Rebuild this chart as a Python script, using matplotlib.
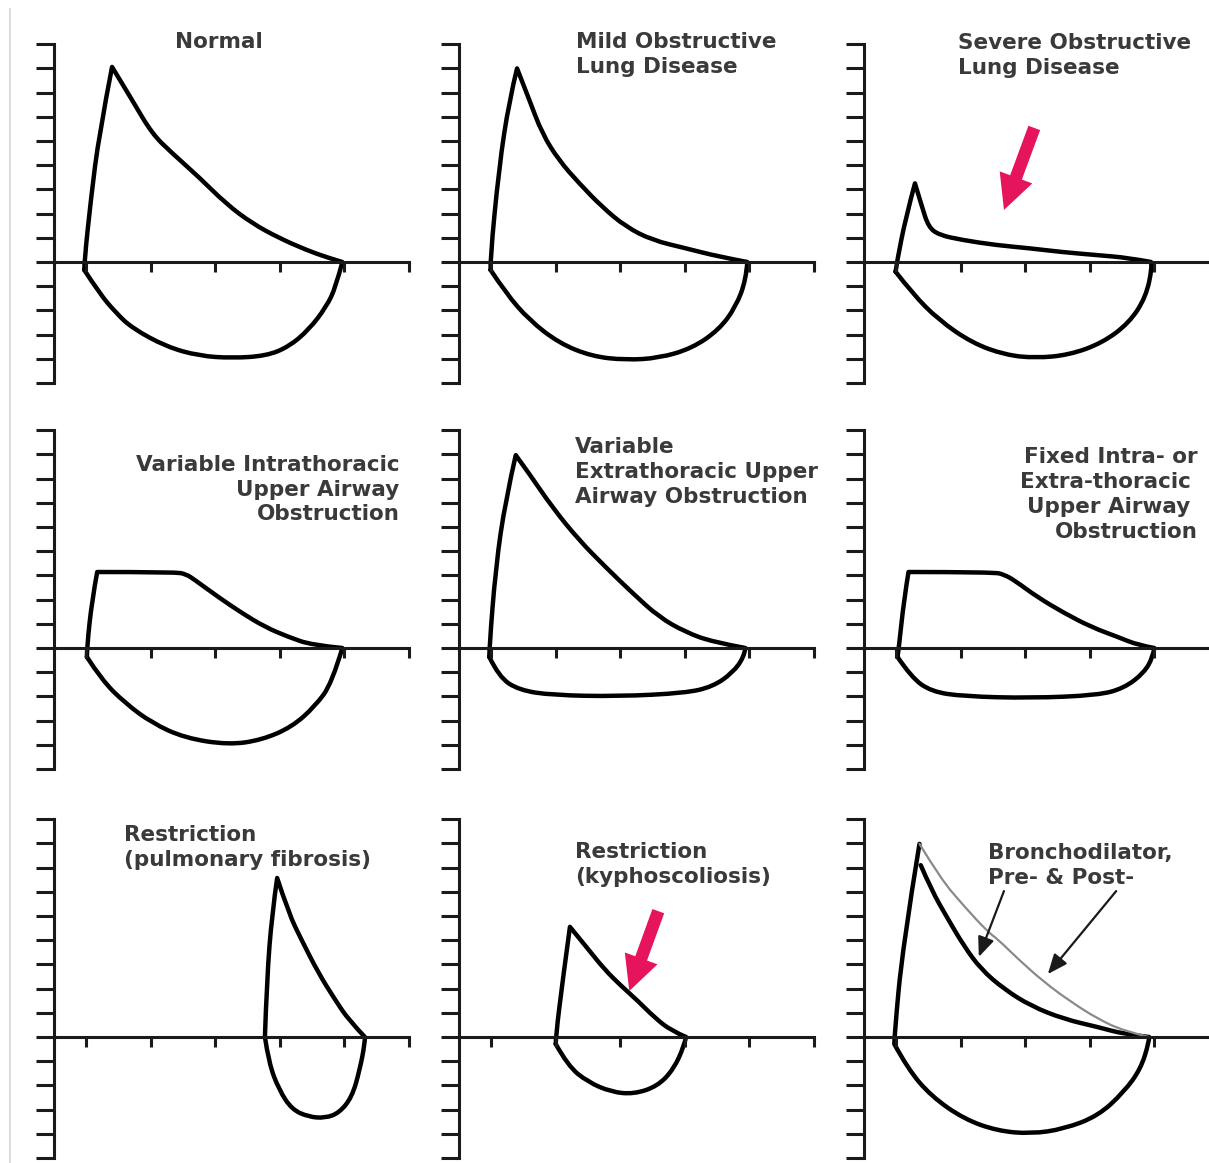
import matplotlib.pyplot as plt
from matplotlib.lines import Line2D
from matplotlib.path import Path
from matplotlib.patches import PathPatch

# Flow-volume loops: volume (x) against flow (y), one loop per panel
titles = [
    'Normal',
    'Mild Obstructive\nLung Disease',
    'Severe Obstructive\nLung Disease',
    'Variable Intrathoracic\nUpper Airway\nObstruction',
    'Variable\nExtrathoracic Upper\nAirway Obstruction',
    'Fixed Intra- or\nExtra-thoracic \nUpper Airway \nObstruction',
    'Restriction\n(pulmonary fibrosis)',
    'Restriction\n(kyphoscoliosis)',
    'Bronchodilator,\nPre- & Post-',
]

flow_ticks = list(range(-5, 10))
volume_ticks = [0.5, 1.5, 2.5, 3.5, 4.5, 5.5]

normal_x = [0.47, 0.47, 0.57, 0.70, 0.90, 1.21, 1.52, 1.83, 2.25, 2.67, 3.07, 3.49, 3.91, 4.22, 4.47,
            4.37, 4.22, 3.95, 3.64, 3.29, 2.76, 2.25, 1.74, 1.21, 0.96, 0.70, 0.47]
normal_y = [-0.33, 0, 2.56, 5.3, 8.06, 6.7, 5.3, 4.5, 3.5, 2.4, 1.6, 0.99, 0.5, 0.2, 0,
            -1.03, -1.86, -2.8, -3.5, -3.88, -3.97, -3.88, -3.5, -2.73, -2.1, -1.28, -0.33]

mild_x = [0.49, 0.48, 0.62, 0.78, 0.90, 1.09, 1.29, 1.55, 1.86, 2.22, 2.59, 3.00, 3.51, 4.03, 4.47,
          4.45, 4.29, 4.03, 3.61, 3.10, 2.58, 2.06, 1.55, 1.09, 0.73, 0.49]
mild_y = [-0.33, 0, 3.9, 6.7, 8.0, 6.7, 5.3, 4.2, 3.26, 2.27, 1.45, 0.9, 0.57, 0.22, 0,
          -0.74, -1.86, -2.8, -3.57, -3.97, -4.05, -3.9, -3.35, -2.4, -1.3, -0.33]

severe_x = [0.49, 0.51, 0.65, 0.79, 0.90, 1.00, 1.16, 1.52, 2.04, 2.56, 3.07, 3.59, 4.11, 4.45,
            4.47, 4.37, 4.11, 3.69, 3.18, 2.66, 2.19, 1.68, 1.16, 0.75, 0.49]
severe_y = [-0.4, 0, 1.87, 3.25, 2.27, 1.45, 1.12, 0.91, 0.70, 0.57, 0.41, 0.29, 0.17, 0,
            -0.2, -1.45, -2.52, -3.35, -3.84, -3.97, -3.84, -3.35, -2.4, -1.3, -0.4]

intra_x = [0.51, 0.51, 0.59, 0.67, 1.88, 2.05, 2.19, 2.55, 2.91, 3.27, 3.64, 4.00, 4.47,
           4.31, 4.05, 3.69, 3.22, 2.71, 2.03, 1.52, 1.10, 0.74, 0.51]
intra_y = [-0.37, 0, 2.0, 3.14, 3.14, 3.05, 2.8, 2.1, 1.45, 0.87, 0.45, 0.12, 0,
           -1.45, -2.4, -3.26, -3.8, -4.0, -3.72, -3.1, -2.27, -1.32, -0.37]

extra_x = [0.47, 0.47, 0.57, 0.72, 0.88, 1.09, 1.45, 1.86, 2.27, 2.69, 3.10, 3.51, 3.93, 4.44,
           4.42, 4.24, 3.93, 3.51, 2.48, 1.45, 0.93, 0.62, 0.47]
extra_y = [-0.37, 0, 3.35, 6.1, 7.97, 7.2, 5.8, 4.46, 3.35, 2.27, 1.28, 0.66, 0.25, 0,
           -0.37, -1.03, -1.6, -1.86, -2.0, -1.95, -1.74, -1.2, -0.37]

fixed_x = [0.52, 0.54, 0.62, 0.69, 2.02, 2.18, 2.33, 2.69, 3.10, 3.52, 3.94, 4.25, 4.50,
           4.48, 4.34, 4.03, 3.63, 2.59, 1.55, 1.04, 0.73, 0.52]
fixed_y = [-0.37, 0, 2.0, 3.14, 3.14, 3.02, 2.8, 2.1, 1.45, 0.87, 0.45, 0.12, 0,
           -0.37, -1.03, -1.66, -1.95, -2.07, -2.0, -1.8, -1.2, -0.37]

fibrosis_x = [3.27, 3.30, 3.38, 3.46, 3.64, 3.84, 4.10, 4.36, 4.57, 4.82,
              4.82, 4.74, 4.62, 4.42, 4.20, 3.95, 3.69, 3.49, 3.33, 3.27]
fibrosis_y = [0, 2.36, 5.1, 6.57, 5.1, 4.0, 2.64, 1.53, 0.7, 0,
              -0.25, -1.36, -2.48, -3.14, -3.35, -3.3, -3.0, -2.19, -1.07, 0]

kypho_x = [1.50, 1.50, 1.61, 1.72, 2.00, 2.25, 2.51, 2.77, 3.03, 3.29, 3.52,
           3.49, 3.33, 3.08, 2.71, 2.36, 2.00, 1.69, 1.50]
kypho_y = [-0.29, 0, 2.4, 4.55, 3.64, 2.81, 2.12, 1.5, 0.81, 0.26, 0,
           -0.37, -1.32, -2.03, -2.36, -2.27, -1.86, -1.2, -0.29]

# pre-bronchodilator loop (starts just under the peak, ends at the peak)
pre_x = [0.88, 1.04, 1.30, 1.55, 1.81, 2.17, 2.59, 3.10, 3.63, 4.03, 4.42,
         4.42, 4.29, 4.03, 3.63, 3.10, 2.59, 2.07, 1.55, 1.04, 0.68, 0.47, 0.47, 0.60, 0.86]
pre_y = [7.1, 6.1, 4.88, 3.76, 2.81, 1.98, 1.28, 0.74, 0.41, 0.12, 0,
         -0.2, -1.32, -2.27, -3.26, -3.8, -4.0, -3.88, -3.39, -2.44, -1.32, -0.29, 0, 3.76, 7.98]
# post-bronchodilator expiration
post_x = [0.86, 1.19, 1.55, 1.92, 2.07, 2.39, 2.79, 3.21, 3.63, 4.03, 4.42]
post_y = [7.98, 6.53, 5.41, 4.34, 4.05, 3.22, 2.27, 1.45, 0.74, 0.25, 0]

loops = [(normal_x, normal_y), (mild_x, mild_y), (severe_x, severe_y),
         (intra_x, intra_y), (extra_x, extra_y), (fixed_x, fixed_y),
         (fibrosis_x, fibrosis_y), (kypho_x, kypho_y), (pre_x, pre_y)]
# sharp corners of each loop (peak, end of expiration, ...)
loop_corners = [[4, 14], [4, 14], [3, 13], [3, 12], [4, 13], [3, 12], [3, 9], [3, 10], [10, 21]]

# title anchors (volume, flow) and alignment
title_pos = [(2.56, 9.5), (1.81, 9.5), (1.46, 9.46), (5.36, 7.98), (1.80, 8.72),
             (5.18, 8.3), (1.09, 8.76), (1.80, 8.06), (1.92, 8.02)]
title_ha = ['center', 'left', 'left', 'right', 'left', 'right', 'left', 'left', 'left']

# pink arrows: (panel, tail, tip)
pink_arrows = [(2, (2.64, 5.54), (2.17, 2.15)), (7, (3.09, 5.2), (2.64, 1.9))]
# black pointer arrows in the bronchodilator panel
black_arrows = [((2.17, 6.03), (1.78, 3.31)), ((3.91, 6.03), (2.85, 2.6))]


def smooth_path(xs, ys, corners=()):
    # quadratic segments through midpoints, straight into the listed corners
    pts = list(zip(xs, ys))
    verts, codes = [pts[0]], [Path.MOVETO]
    n = len(pts)
    for i in range(1, n - 1):
        if i in corners:
            verts.append(pts[i])
            codes.append(Path.LINETO)
            continue
        nxt = pts[i + 1]
        if i + 1 in corners or i + 1 == n - 1:
            end = nxt
        else:
            end = ((pts[i][0] + nxt[0]) / 2, (pts[i][1] + nxt[1]) / 2)
        verts += [pts[i], end]
        codes += [Path.CURVE3, Path.CURVE3]
    verts.append(pts[-1])
    codes.append(Path.LINETO)
    return Path(verts, codes)


W, H = 1209, 1163
fig = plt.figure(figsize=(W / 100, H / 100), dpi=100)
fig.add_artist(Line2D([10 / W, 10 / W], [0, 1 - 9 / H], color='#dcdcdc', lw=1.5))

col_x = [54, 459, 864]      # pixel position of each flow axis
row_y = [262, 648, 1037]    # pixel position of zero flow
ux, uy = 64.5, 24.2         # pixels per unit
xlim = (-0.9, 6.3)
ylim = (-6.2, 10.8)

axes = []
for i in range(9):
    r, c = divmod(i, 3)
    left = (col_x[c] + xlim[0] * ux) / W
    bottom = 1 - (row_y[r] - ylim[0] * uy) / H
    ax = fig.add_axes([left, bottom, (xlim[1] - xlim[0]) * ux / W, (ylim[1] - ylim[0]) * uy / H])
    ax.set_xlim(xlim)
    ax.set_ylim(ylim)
    ax.patch.set_alpha(0)
    for s in ['top', 'right']:
        ax.spines[s].set_visible(False)
    ax.spines['left'].set_position(('data', 0))
    ax.spines['bottom'].set_position(('data', 0))
    ax.spines['left'].set_bounds(-5, 9)
    ax.spines['bottom'].set_bounds(0, 5.5)
    for s in ['left', 'bottom']:
        ax.spines[s].set_linewidth(2.2)
        ax.spines[s].set_color('#1a1a1a')
    ax.set_yticks(flow_ticks)
    ax.set_xticks(volume_ticks)
    ax.tick_params(axis='y', direction='out', length=13, width=2.2, color='#1a1a1a', labelleft=False)
    ax.tick_params(axis='x', direction='out', length=7, width=2.2, color='#1a1a1a', labelbottom=False)

    lx, ly = loops[i]
    ax.add_patch(PathPatch(smooth_path(lx, ly, loop_corners[i]), fill=False, edgecolor='black',
                           lw=3.2, joinstyle='round', capstyle='round'))

    tx, ty = title_pos[i]
    ax.text(tx, ty, titles[i], ha=title_ha[i], va='top', multialignment=title_ha[i],
            fontsize=15.5, fontweight='bold', color='#3a3a3a', linespacing=1.3,
            family='DejaVu Sans')
    axes.append(ax)

axes[8].add_patch(PathPatch(smooth_path(post_x, post_y), fill=False, edgecolor='#8a8a8a',
                            lw=1.6, capstyle='round'))

for panel, tail, tip in pink_arrows:
    axes[panel].annotate('', xy=tip, xytext=tail,
                         arrowprops=dict(arrowstyle='simple,head_length=2.5,head_width=2.5,tail_width=0.9',
                                         color='#e5145c', lw=0, shrinkA=0, shrinkB=0, mutation_scale=10))

for tail, tip in black_arrows:
    axes[8].annotate('', xy=tip, xytext=tail,
                     arrowprops=dict(arrowstyle='-|>,head_length=0.6,head_width=0.25',
                                     color='#1a1a1a', lw=1.6, shrinkA=0, shrinkB=0, mutation_scale=20))

fig.savefig('out.png', dpi=100)
